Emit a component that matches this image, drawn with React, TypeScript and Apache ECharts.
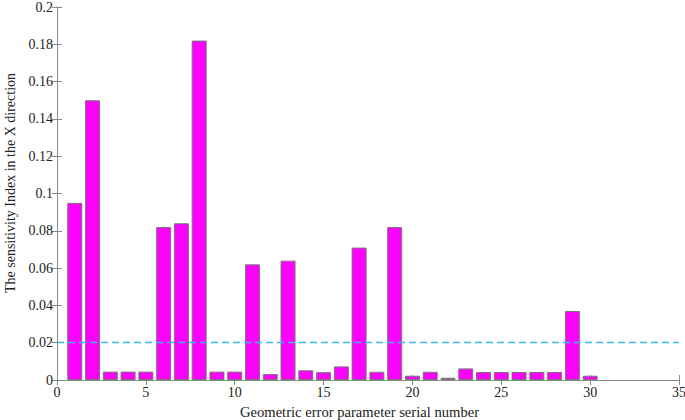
import React, { useEffect, useRef } from "react";
import * as echarts from "echarts";

const paramIds = [1,2,3,4,5,6,7,8,9,10,11,12,13,14,15,16,17,18,19,20,21,22,23,24,25,26,27,28,29,30];
const sensitivity = [0.095,0.150,0.0045,0.0045,0.0045,0.082,0.084,0.182,0.0045,0.0045,0.062,0.0032,0.064,0.0052,0.0042,0.0073,0.071,0.0044,0.082,0.0023,0.0044,0.0012,0.0062,0.0043,0.0043,0.0043,0.0043,0.0043,0.037,0.0023];
const threshold = 0.02;
const xTicks = { min: 0, max: 35, interval: 5 };
const yTicks = { min: 0, max: 0.2, interval: 0.02 };

const FONT = "'Liberation Serif', 'Times New Roman', serif";
const DASH_COLOR = "#3cb8e6";

export default function App() {
  const ref = useRef<HTMLDivElement>(null);
  useEffect(() => {
    document.body.style.margin = "0";
    const chart = echarts.init(ref.current!, null, { renderer: "svg" });
    const axisLine = { show: true, lineStyle: { color: "#888", width: 1 } };
    const text = { fontFamily: FONT, fontSize: 14, color: "#222" };
    chart.setOption({
      animation: false,
      backgroundColor: "#fff",
      textStyle: { fontFamily: FONT },
      grid: { left: 57, right: 6, top: 7, bottom: 40, containLabel: false, outerBoundsMode: "none" },
      xAxis: [
        {
          type: "value", min: xTicks.min, max: xTicks.max, interval: xTicks.interval,
          position: "bottom",
          name: "Geometric error parameter serial number",
          nameLocation: "middle", nameGap: 24,
          nameTextStyle: { ...text, fontSize: 14.6, padding: [0, 17, 0, 0] },
          axisLine, axisTick: { show: true, inside: true, length: 5, lineStyle: { color: "#888" } },
          axisLabel: { ...text, margin: 5 },
          splitLine: { show: false },
        },
        {
          type: "value", min: xTicks.min, max: xTicks.max, interval: xTicks.interval,
          position: "top",
          axisLine, axisTick: { show: true, inside: true, length: 5, lineStyle: { color: "#888" } },
          axisLabel: { show: false }, splitLine: { show: false },
        },
      ],
      yAxis: [
        {
          type: "value", min: yTicks.min, max: yTicks.max, interval: yTicks.interval,
          position: "left",
          name: "The sensitivity Index in the X direction",
          nameLocation: "middle", nameGap: 40,
          nameTextStyle: { ...text, padding: [0, 0, 0, 21] },
          axisLine, axisTick: { show: true, inside: true, length: 5, lineStyle: { color: "#888" } },
          axisLabel: { ...text, margin: 4 },
          splitLine: { show: false },
        },
        {
          type: "value", min: yTicks.min, max: yTicks.max, interval: yTicks.interval,
          position: "right",
          axisLine, axisTick: { show: true, inside: true, length: 5, lineStyle: { color: "#888" } },
          axisLabel: { show: false }, splitLine: { show: false },
        },
      ],
      series: [
        {
          type: "bar",
          xAxisIndex: 0, yAxisIndex: 0,
          data: paramIds.map((id, i) => [id, sensitivity[i]]),
          barWidth: 15,
          itemStyle: { color: "#ff00ff", borderColor: "#777", borderWidth: 1 },
          markLine: {
            silent: true, symbol: "none",
            label: { show: false },
            lineStyle: { color: DASH_COLOR, type: [7, 4], width: 1.3 },
            data: [{ yAxis: threshold, lineStyle: { color: DASH_COLOR, type: [7, 4], width: 1.3 } }],
          },
        },
      ],
    });
    return () => chart.dispose();
  }, []);
  return <div ref={ref} style={{ width: 685, height: 420 }} />;
}
